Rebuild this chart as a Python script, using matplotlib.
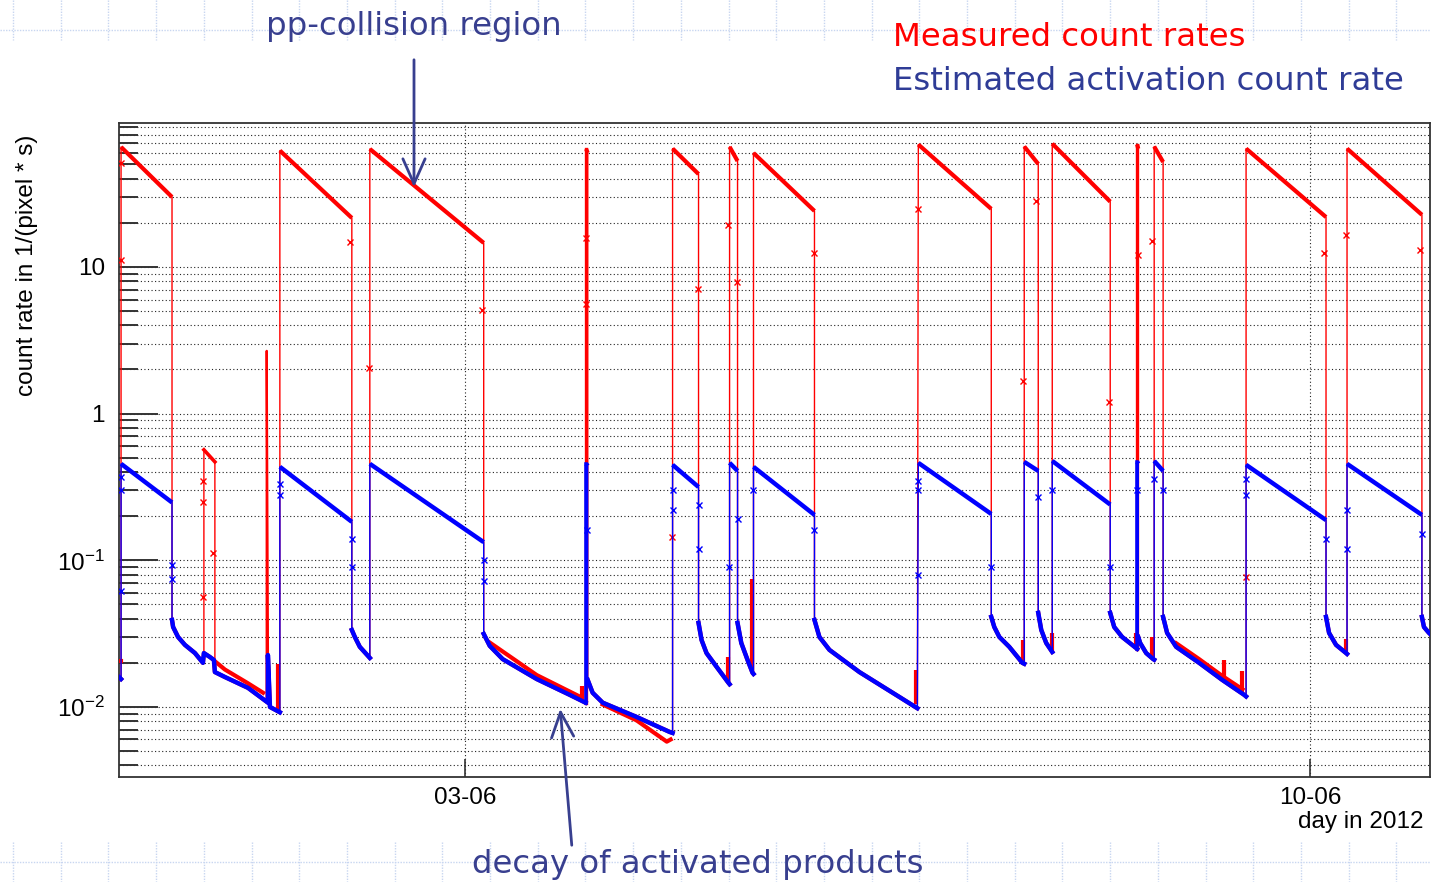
import numpy as np
import matplotlib.pyplot as plt
from matplotlib.patches import FancyArrowPatch
from matplotlib.lines import Line2D
from matplotlib.ticker import LogLocator, NullFormatter, FixedLocator

W, H = 1431, 882

# --- DATA (x = day of June 2012, y = count rate in 1/(pixel*s)) ---

# beam fills: start/end time, measured (red) and estimated (blue) rates
fill_start = [0.154, 1.469, 2.214, 4.005, 4.721, 5.193, 5.391, 6.756, 7.633, 7.865, 8.568, 8.709, 9.470, 10.306]
fill_end   = [0.576, 2.065, 3.157, 4.018, 4.936, 5.259, 5.896, 7.360, 7.749, 8.345, 8.577, 8.783, 10.132, 10.926]
red_start  = [65.8, 62.2, 63.8, 63.8, 64.2, 66.0, 59.9, 68.4, 66.3, 69.3, 68.4, 66.3, 64.2, 64.2]
red_end    = [30.0, 21.6, 14.6, 60.0, 43.0, 52.8, 24.1, 24.9, 50.4, 27.9, 64.0, 52.0, 21.9, 22.7]
blue_start = [0.455, 0.434, 0.455, 0.455, 0.448, 0.462, 0.434, 0.462, 0.469, 0.476, 0.469, 0.476, 0.448, 0.455]
blue_end   = [0.248, 0.183, 0.133, 0.440, 0.316, 0.407, 0.204, 0.207, 0.407, 0.240, 0.455, 0.407, 0.188, 0.204]

# decay of activated products between fills (first entry: before the first fill)
decay_t = [
    [0.137, 0.154],
    [0.576, 0.585, 0.626, 0.683, 0.766, 0.832, 0.840, 0.890, 0.923, 0.931, 1.014, 1.205, 1.370, 1.370, 1.387, 1.469],
    [2.065, 2.090, 2.131, 2.214],
    [3.157, 3.207, 3.314, 3.596, 3.869, 4.000],
    [4.018, 4.059, 4.142, 4.423, 4.696, 4.721],
    [4.936, 4.961, 5.002, 5.085, 5.184, 5.193],
    [5.259, 5.290, 5.342, 5.383, 5.391],
    [5.896, 5.937, 6.020, 6.268, 6.599, 6.748],
    [7.360, 7.385, 7.427, 7.509, 7.617, 7.633],
    [7.749, 7.774, 7.815, 7.865],
    [8.345, 8.378, 8.444, 8.568],
    [8.577, 8.593, 8.643, 8.701, 8.709],
    [8.783, 8.816, 8.891, 9.081, 9.272, 9.454, 9.470],
    [10.132, 10.157, 10.215, 10.298, 10.306],
    [10.926, 10.943, 10.984, 10.993],
]
decay_v = [
    [0.0160, 0.0155],
    [0.0392, 0.0351, 0.0300, 0.0265, 0.0233, 0.0200, 0.0233, 0.0219, 0.0209, 0.0173, 0.0160, 0.0135, 0.0107, 0.0226, 0.0100, 0.0092],
    [0.0335, 0.0300, 0.0257, 0.0216],
    [0.0315, 0.0261, 0.0212, 0.0155, 0.0121, 0.0107],
    [0.0153, 0.0125, 0.0107, 0.00855, 0.00676, 0.00665],
    [0.0374, 0.0286, 0.0233, 0.0188, 0.0146, 0.0143],
    [0.0374, 0.0273, 0.0209, 0.0171, 0.0168],
    [0.0392, 0.0300, 0.0245, 0.0173, 0.0117, 0.0098],
    [0.0411, 0.0351, 0.0300, 0.0257, 0.0200, 0.0197],
    [0.0438, 0.0335, 0.0273, 0.0237],
    [0.0438, 0.0351, 0.0300, 0.0249],
    [0.0300, 0.0273, 0.0233, 0.0212, 0.0210],
    [0.0411, 0.0320, 0.0257, 0.0200, 0.0153, 0.0121, 0.0118],
    [0.0411, 0.0320, 0.0265, 0.0233, 0.0230],
    [0.0411, 0.0351, 0.0320, 0.0315],
]

# measured rate where it departs from the estimate
red_mini_t = [0.840, 0.840, 0.931, 0.931]
red_mini_v = [0.0233, 0.567, 0.469, 0.0173]
red_spike_t = [1.360, 1.360, 1.372]
red_spike_v = [0.0112, 2.68, 0.0106]
red_dev_t = [[0.137, 0.152], [0.931, 1.014, 1.205, 1.330], [3.207, 3.596, 3.950],
             [4.142, 4.423, 4.673, 4.705], [8.891, 9.081, 9.272, 9.440]]
red_dev_v = [[0.0205, 0.0205], [0.0205, 0.0180, 0.0145, 0.0125], [0.0275, 0.0165, 0.0118],
             [0.0104, 0.0081, 0.0058, 0.0060], [0.0272, 0.0212, 0.0163, 0.0132]]
red_bump_t  = [1.450, 3.975, 5.180, 5.375, 6.735, 7.620, 7.860, 8.560, 8.695, 9.290, 9.440, 10.295]
red_bump_lo = [0.0095, 0.0110, 0.0146, 0.0180, 0.0105, 0.0200, 0.0237, 0.0250, 0.0212, 0.0150, 0.0122, 0.0233]
red_bump_hi = [0.0195, 0.0140, 0.0218, 0.0750, 0.0180, 0.0286, 0.0320, 0.0320, 0.0300, 0.0210, 0.0175, 0.0290]

# isolated markers on the transitions
red_x_t = [0.154, 0.154, 0.832, 0.832, 0.915, 0.832, 2.048, 3.141, 2.206, 4.001, 4.001, 4.713, 4.928,
           5.184, 5.251, 5.888, 6.756, 7.625, 8.337, 8.577, 8.692, 7.733, 10.116, 10.298, 10.910, 9.470]
red_x_v = [11.2, 51, 0.35, 0.25, 0.112, 0.056, 14.8, 5.1, 2.05, 15.7, 5.6, 0.144, 7.1,
           19.4, 7.9, 12.4, 25, 1.67, 1.2, 12, 15, 28, 12.4, 16.5, 13, 0.077]
blue_x_t = [0.154, 0.154, 0.154, 0.576, 0.576, 1.469, 1.469, 2.065, 2.065, 3.157, 3.157, 4.009, 4.721, 4.721,
            4.936, 4.936, 5.191, 5.259, 5.391, 5.896, 6.756, 6.756, 6.756, 7.360, 7.749, 7.865, 8.345, 8.568,
            8.709, 8.783, 9.470, 9.470, 10.132, 10.306, 10.306, 10.926]
blue_x_v = [0.37, 0.30, 0.062, 0.093, 0.075, 0.28, 0.33, 0.14, 0.09, 0.10, 0.072, 0.16, 0.30, 0.22,
            0.24, 0.12, 0.09, 0.19, 0.30, 0.16, 0.30, 0.35, 0.08, 0.09, 0.27, 0.30, 0.09, 0.30,
            0.36, 0.30, 0.36, 0.28, 0.14, 0.22, 0.12, 0.15]

RED = '#ff0000'
BLUE = '#0000ff'
NAVY = '#383f8f'
TXT = ['Liberation Sans', 'DejaVu Sans']
ANN = ['DejaVu Sans']


def series(top_start, top_end):
    t = list(decay_t[0])
    v = list(decay_v[0])
    for i in range(len(fill_start)):
        t += [fill_start[i], fill_end[i]] + decay_t[i + 1]
        v += [top_start[i], top_end[i]] + decay_v[i + 1]
    return t, v


def draw(ax, top_start, top_end, color, lw_thick):
    t, v = series(top_start, top_end)
    ax.plot(t, v, color=color, lw=1.0, zorder=3)
    for i in range(len(fill_start)):
        ax.plot([fill_start[i], fill_end[i]], [top_start[i], top_end[i]],
                color=color, lw=lw_thick, solid_capstyle='butt', zorder=3)
        if fill_end[i] - fill_start[i] < 0.03:
            ax.plot([fill_start[i], fill_start[i]], [decay_v[i][-1], top_start[i]],
                    color=color, lw=lw_thick * 0.8, zorder=3)
    for dt, dv in zip(decay_t, decay_v):
        ax.plot(dt, dv, color=color, lw=lw_thick, zorder=3)


fig = plt.figure(figsize=(W / 100, H / 100), dpi=100)
ax = fig.add_axes([119 / W, 1 - 777 / H, (1430 - 119) / W, (777 - 123) / H])

# measured count rates
draw(ax, red_start, red_end, RED, 3.0)
ax.plot(red_mini_t, red_mini_v, color=RED, lw=1.0, zorder=3)
ax.plot(red_mini_t[1:3], red_mini_v[1:3], color=RED, lw=2.6, zorder=3)
ax.plot(red_spike_t, red_spike_v, color=RED, lw=1.6, zorder=3)
for dt, dv in zip(red_dev_t, red_dev_v):
    ax.plot(dt, dv, color=RED, lw=3.0, zorder=3)
ax.vlines(red_bump_t, red_bump_lo, red_bump_hi, color=RED, lw=3.0, zorder=3)
ax.plot(red_x_t, red_x_v, 'x', color=RED, ms=4, mew=1, zorder=3)

# estimated activation count rate
draw(ax, blue_start, blue_end, BLUE, 3.2)
ax.plot(blue_x_t, blue_x_v, 'x', color=BLUE, ms=4, mew=1, zorder=4)

ax.set_yscale('log')
ax.set_ylim(0.00333, 95.9)
ax.set_xlim(0.137, 10.993)

ax.yaxis.set_major_locator(FixedLocator([0.01, 0.1, 1, 10]))
ax.set_yticklabels([r'$\mathregular{10^{-2}}$', r'$\mathregular{10^{-1}}$', '1', '10'],
                   family=TXT, fontsize=17.5)
ax.yaxis.set_minor_locator(LogLocator(base=10, subs=np.arange(2, 10), numticks=20))
ax.yaxis.set_minor_formatter(NullFormatter())
ax.set_xticks([3, 10])
ax.set_xticklabels(['03-06', '10-06'], family=TXT, fontsize=17.5)
ax.xaxis.set_minor_locator(FixedLocator([]))

ax.tick_params(axis='y', which='major', direction='in', length=28, width=1.4, color='#333333', pad=10)
ax.tick_params(axis='y', which='minor', direction='in', length=14, width=1.4, color='#333333')
ax.tick_params(axis='x', which='major', direction='in', length=13, width=1.2, color='#333333', pad=7)

ax.grid(True, which='both', axis='y', color='#222222', lw=0.8, ls=(0, (1, 2.2)))
ax.grid(True, which='major', axis='x', color='#222222', lw=0.8, ls=(0, (1, 2.2)))
ax.set_axisbelow(True)
for s in ax.spines.values():
    s.set_color('#333333')
    s.set_linewidth(1.3)

fig.text(27 / W, 1 - 135 / H, 'count rate in 1/(pixel * s)', rotation=90, ha='center', va='top',
         family=TXT, fontsize=17.5)
fig.text(1424 / W, 1 - 822 / H, 'day in 2012', ha='right', va='center', family=TXT, fontsize=17.5)

# slide background dots
for yy in (30, 862):
    fig.add_artist(Line2D([0, 1], [1 - yy / H] * 2, transform=fig.transFigure,
                          color='#c8d6f0', lw=1.0, ls=(0, (1, 1)), zorder=0))
for xx in np.arange(13, W, 47.7):
    for y0, y1 in ((0, 40), (842, 882)):
        fig.add_artist(Line2D([xx / W] * 2, [1 - y0 / H, 1 - y1 / H], transform=fig.transFigure,
                              color='#c8d6f0', lw=1.0, ls=(0, (1, 1)), zorder=0))

# annotations
fig.text(414 / W, 1 - 27 / H, 'pp-collision region', ha='center', va='center',
         family=ANN, fontsize=23.3, color=NAVY)
fig.text(893 / W, 1 - 37 / H, 'Measured count rates', ha='left', va='center',
         family=ANN, fontsize=23.3, color=RED)
fig.text(893 / W, 1 - 82 / H, 'Estimated activation count rate', ha='left', va='center',
         family=ANN, fontsize=23.3, color='#2f3c96')
fig.text(698 / W, 1 - 864 / H, 'decay of activated products', ha='center', va='center',
         family=ANN, fontsize=23.3, color=NAVY)

for (xa, ya), (xb, yb) in (((414, 57), (414, 190)), ((572, 848), (560, 706))):
    fig.add_artist(FancyArrowPatch((xa / W, 1 - ya / H), (xb / W, 1 - yb / H),
                                   transform=fig.transFigure, arrowstyle='->,head_length=0.9,head_width=0.4',
                                   mutation_scale=20, color=NAVY, lw=2.0, zorder=5))

fig.savefig('out.png', dpi=100)
